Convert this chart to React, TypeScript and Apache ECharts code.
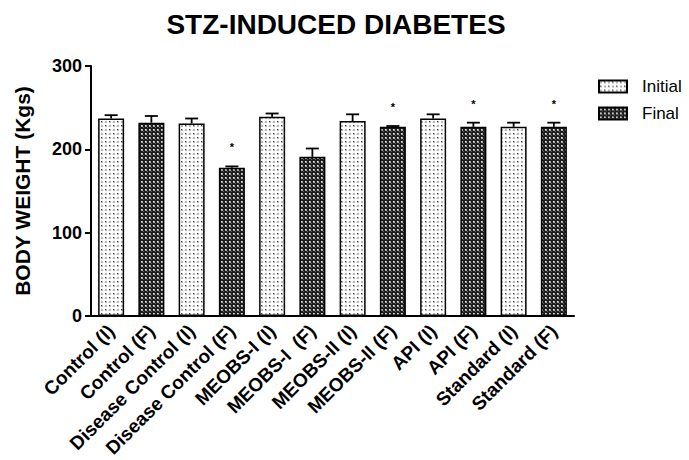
import React, { useEffect, useRef } from 'react';
import * as echarts from 'echarts';

const categories = [
  'Control (I)', 'Control (F)',
  'Disease Control (I)', 'Disease Control (F)',
  'MEOBS-I (I)', 'MEOBS-I  (F)',
  'MEOBS-II (I)', 'MEOBS-II (F)',
  'API (I)', 'API (F)',
  'Standard (I)', 'Standard (F)',
];
const initialValues = [237, 231, 239, 234, 237, 227];
const initialErrors = [4, 6, 4, 8, 5, 5];
const finalValues = [232, 178, 191, 227, 227, 227];
const finalErrors = [8, 1.5, 10, 1, 5, 5];
const finalSignificant = [false, true, false, true, true, true];
const yTicks = { min: 0, max: 300, interval: 100 };
const legendNames = ['Initial', 'Final'];

const FONT = '"Liberation Sans", Arial, Helvetica, sans-serif';

function makeInitialPattern(): HTMLCanvasElement {
  const c = document.createElement('canvas');
  c.width = 8; c.height = 8;
  const g = c.getContext('2d')!;
  g.fillStyle = '#ffffff'; g.fillRect(0, 0, 8, 8);
  g.fillStyle = '#b4b4b4';
  g.fillRect(1, 1, 2, 2); g.fillRect(5, 1, 2, 2); g.fillRect(1, 5, 2, 2); g.fillRect(5, 5, 2, 2);
  g.fillStyle = '#404040';
  g.fillRect(5, 1, 1, 1); g.fillRect(1, 5, 1, 1);
  return c;
}

function makeFinalPattern(): HTMLCanvasElement {
  const c = document.createElement('canvas');
  c.width = 4; c.height = 4;
  const g = c.getContext('2d')!;
  g.fillStyle = '#1e1e1e'; g.fillRect(0, 0, 4, 4);
  g.fillStyle = '#a8a8a8'; g.fillRect(1, 1, 2, 2);
  g.fillStyle = '#e0e0e0'; g.fillRect(1, 1, 1, 1);
  g.fillStyle = '#5a5a5a'; g.fillRect(3, 3, 1, 1);
  return c;
}

export default function App() {
  const ref = useRef<HTMLDivElement>(null);
  useEffect(() => {
    document.body.style.margin = '0';
    if (!ref.current) return;
    const chart = echarts.init(ref.current, undefined, { renderer: 'svg' });

    const initialPat = makeInitialPattern();
    const finalPat = makeFinalPattern();

    const initialData = categories.map((_, i) => (i % 2 === 0 ? initialValues[i / 2] : '-'));
    const finalData = categories.map((_, i) => (i % 2 === 1 ? finalValues[(i - 1) / 2] : '-'));
    const errData = categories.map((_, i) => {
      const k = Math.floor(i / 2);
      const isFinal = i % 2 === 1;
      const v = isFinal ? finalValues[k] : initialValues[k];
      const e = isFinal ? finalErrors[k] : initialErrors[k];
      const s = isFinal && finalSignificant[k] ? 1 : 0;
      return [i, v, e, s];
    });

    chart.setOption({
      animation: false,
      backgroundColor: '#ffffff',
      title: {
        text: 'STZ-INDUCED DIABETES',
        left: 331,
        top: 5,
        textAlign: 'center',
        textStyle: { fontFamily: FONT, fontWeight: 'bold', fontSize: 28, color: '#000' },
      },
      legend: {
        data: legendNames,
        orient: 'vertical',
        left: 598,
        top: 78,
        padding: 0,
        itemWidth: 28,
        itemHeight: 12,
        itemGap: 10,
        icon: 'rect',
        textStyle: { fontFamily: FONT, fontSize: 17, color: '#000', padding: [0, 0, 0, 10] },
      },
      grid: { left: 91, top: 66, width: 483, height: 252, containLabel: false },
      xAxis: {
        type: 'category',
        data: categories,
        axisLine: { lineStyle: { color: '#000', width: 2 } },
        axisTick: { alignWithLabel: true, length: 7, lineStyle: { color: '#000', width: 2 } },
        axisLabel: {
          interval: 0,
          rotate: 45,
          margin: 12,
          fontFamily: FONT,
          fontWeight: 'bold',
          fontSize: 19,
          color: '#000',
        },
      },
      yAxis: {
        type: 'value',
        min: yTicks.min,
        max: yTicks.max,
        interval: yTicks.interval,
        name: 'BODY WEIGHT (Kgs)',
        nameLocation: 'middle',
        nameGap: 58,
        nameTextStyle: { fontFamily: FONT, fontWeight: 'bold', fontSize: 21, color: '#000' },
        axisLine: { show: true, lineStyle: { color: '#000', width: 2 } },
        axisTick: { show: true, length: 6, lineStyle: { color: '#000', width: 2 } },
        splitLine: { show: false },
        axisLabel: { fontFamily: FONT, fontWeight: 'bold', fontSize: 18, color: '#000', margin: 9 },
      },
      series: [
        {
          name: 'Initial',
          type: 'bar',
          data: initialData,
          barWidth: 26,
          barGap: '-100%',
          itemStyle: {
            color: { image: initialPat, repeat: 'repeat', imageWidth: 8, imageHeight: 8 },
            borderColor: '#000',
            borderWidth: 1.5,
          },
        },
        {
          name: 'Final',
          type: 'bar',
          data: finalData,
          barWidth: 26,
          barGap: '-100%',
          itemStyle: {
            color: { image: finalPat, repeat: 'repeat', imageWidth: 4, imageHeight: 4 },
            borderColor: '#000',
            borderWidth: 1.5,
          },
        },
        {
          name: 'errors',
          type: 'custom',
          data: errData,
          encode: { x: 0, y: 1 },
          z: 5,
          renderItem: (_params: any, api: any) => {
            const x = api.value(0);
            const v = api.value(1);
            const e = api.value(2);
            const s = api.value(3);
            const base = api.coord([x, v]);
            const top = api.coord([x, v + e]);
            const half = 6.5;
            const children: any[] = [
              { type: 'line', shape: { x1: base[0], y1: base[1], x2: top[0], y2: top[1] }, style: { stroke: '#000', lineWidth: 1.8 } },
              { type: 'line', shape: { x1: top[0] - half, y1: top[1], x2: top[0] + half, y2: top[1] }, style: { stroke: '#000', lineWidth: 1.8 } },
            ];
            if (s) {
              children.push({
                type: 'text',
                style: {
                  text: '*', x: top[0], y: top[1] - 19, align: 'center', verticalAlign: 'middle',
                  fontSize: 11, fontWeight: 'bold', fontFamily: FONT, fill: '#000',
                },
              });
            }
            return { type: 'group', children };
          },
        },
      ],
    });
    return () => chart.dispose();
  }, []);
  return <div ref={ref} style={{ width: 689, height: 460 }} />;
}
